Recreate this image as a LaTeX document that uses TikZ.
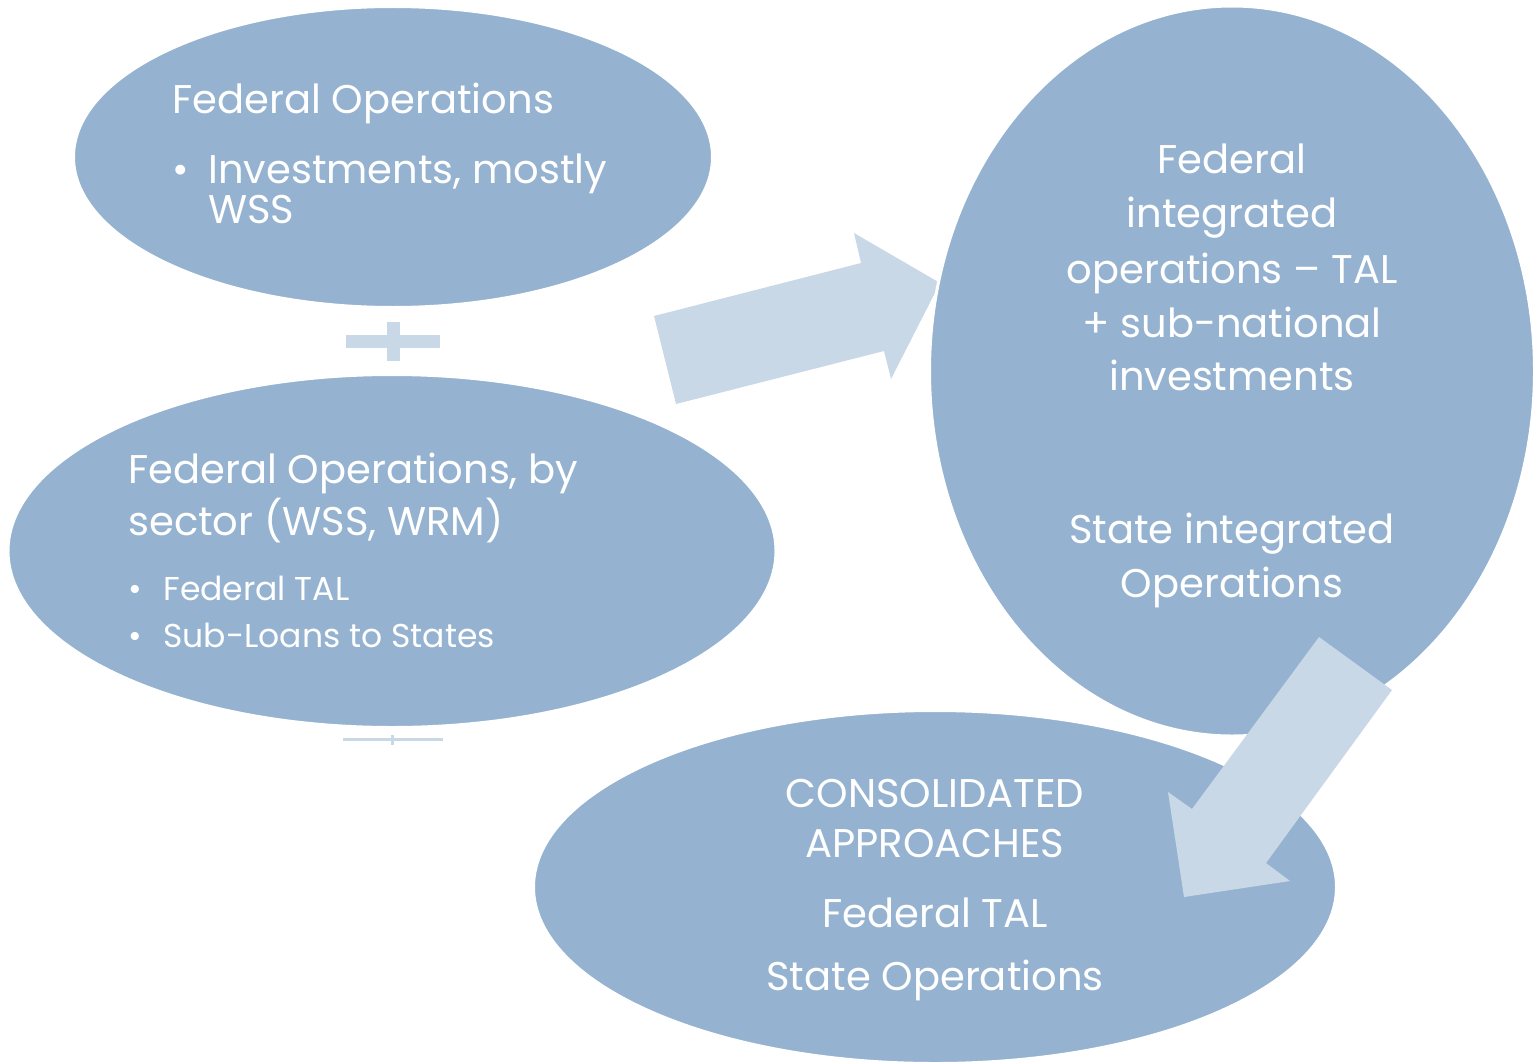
\documentclass[tikz,border=0pt]{standalone}
\usepackage{fontspec}
\setmainfont{Poppins}
\usetikzlibrary{shapes.geometric}
\definecolor{bubblefill}{HTML}{95B3D0}
\definecolor{palefill}{HTML}{C8D8E6}
\tikzset{%
	bubble/.style   = {ellipse, fill=bubblefill, draw=white, line width=0.06cm, inner sep=0pt}, % Ellipse
	bigtxt/.style   = {text=white, inner sep=0pt, font=\fontsize{22.8}{27}\selectfont}, % Heading text
	smalltxt/.style = {text=white, inner sep=0pt, font=\fontsize{18.8}{22}\selectfont}, % Bullet text
	blockarrow/.style = {fill=palefill, draw=none}, % Fat arrow
}

\begin{document}
\begin{tikzpicture}[x=0.02cm,y=-0.02cm]
	\useasboundingbox (0,0) rectangle (1537,1061);

	% arrow behind the right ellipse
	\fill[blockarrow] (676,404) -- (654,316) -- (861,263) -- (854,233) -- (940,283) -- (891,379) -- (884,351) -- cycle;

	\node [bubble,minimum width={639*0.02cm},minimum height={301*0.02cm}] (fed) at (393,157) {};
	\node [bubble,minimum width={768*0.02cm},minimum height={353*0.02cm}] (sector) at (392,551) {};
	\node [bubble,minimum width={605*0.02cm},minimum height={730*0.02cm}] (integ) at (1232,371) {};
	\node [bubble,minimum width={803*0.02cm},minimum height={353*0.02cm}] (consol) at (935,887) {};

	% plus between the left ellipses
	\fill[palefill] (346,335) rectangle (440,348);
	\fill[palefill] (387,322) rectangle (400,361);
	% faint line below
	\fill[palefill] (343,738) rectangle (443,741);
	\fill[palefill] (391,735) rectangle (394,745);

	% arrow over both ellipses
	\fill[blockarrow] (1319,637) -- (1392,690) -- (1266,863) -- (1290,881) -- (1184,897) -- (1168,792) -- (1192,809) -- cycle;

	% top left
	\node [bigtxt,anchor=base west] (fedhead) at (172,113) {Federal Operations};
	\node [bigtxt,anchor=base west] (fedbul) at (172,183) {•};
	\node [bigtxt,anchor=base west] (fedinv) at (208,183) {Investments, mostly};
	\node [bigtxt,anchor=base west] (fedwss) at (208,223) {WSS};

	% middle left
	\node [bigtxt,anchor=base west] (sechead) at (128,483) {Federal Operations, by};
	\node [bigtxt,anchor=base west] (secsub) at (128,535) {sector (WSS, WRM)};
	\node [smalltxt,anchor=base west] (secbula) at (128,600) {•};
	\node [smalltxt,anchor=base west] (sectal) at (163,600) {Federal TAL};
	\node [smalltxt,anchor=base west] (secbulb) at (128,647) {•};
	\node [smalltxt,anchor=base west] (secloan) at (163,647) {Sub-Loans to States};

	% right
	\node [bigtxt,anchor=base] (intfed) at (1232,173) {Federal};
	\node [bigtxt,anchor=base] (intint) at (1232,227) {integrated};
	\node [bigtxt,anchor=base] (intops) at (1232,283) {operations – TAL};
	\node [bigtxt,anchor=base] (intsub) at (1232,337) {+ sub-national};
	\node [bigtxt,anchor=base] (intinv) at (1232,390) {investments};
	\node [bigtxt,anchor=base] (intstate) at (1232,543) {State integrated};
	\node [bigtxt,anchor=base] (intsops) at (1232,597) {Operations};

	% bottom
	\node [bigtxt,anchor=base] (conhead) at (935,807) {CONSOLIDATED};
	\node [bigtxt,anchor=base] (conapp) at (935,857) {APPROACHES};
	\node [bigtxt,anchor=base] (contal) at (935,927) {Federal TAL};
	\node [bigtxt,anchor=base] (conops) at (935,990) {State Operations};
\end{tikzpicture}
\end{document}
